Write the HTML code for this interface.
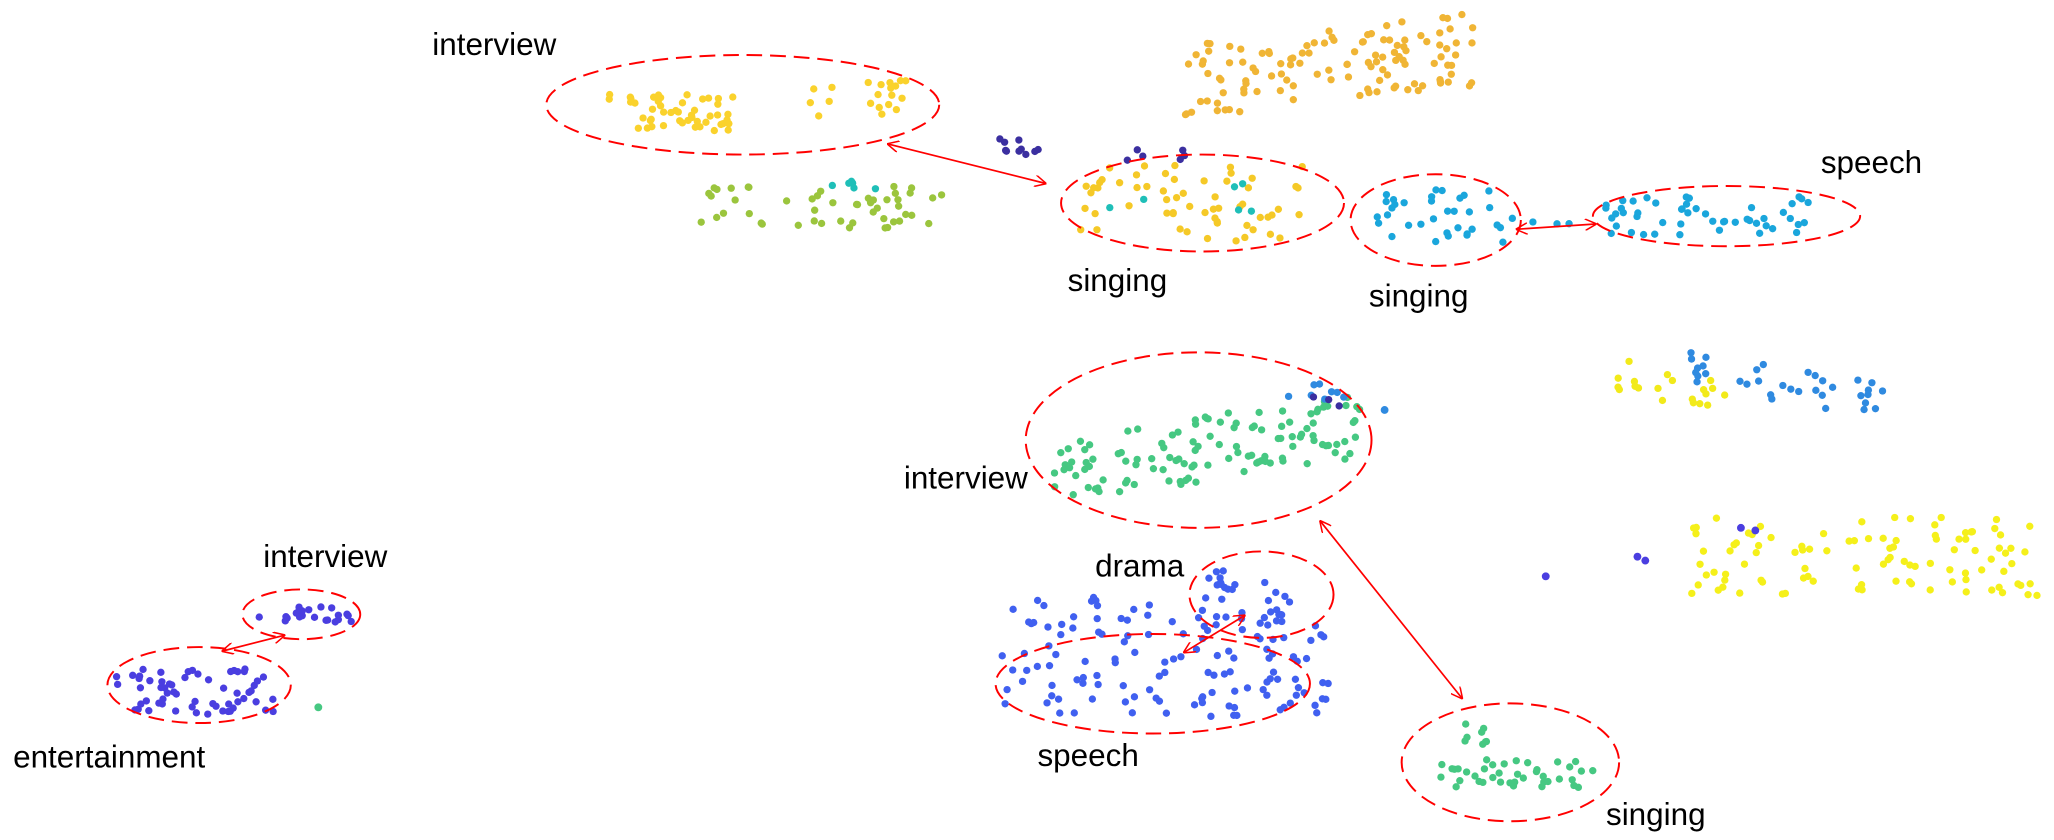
<!DOCTYPE html>
<html><head><meta charset="utf-8"><style>
html,body{margin:0;padding:0;background:#fff;width:2054px;height:840px;overflow:hidden}
svg{display:block}
text{font-family:"Liberation Sans",sans-serif;font-size:24px;fill:#000}
</style></head><body>
<svg id="s" width="2054" height="840" viewBox="0 0 1568 641.3" preserveAspectRatio="none" xmlns="http://www.w3.org/2000/svg">
<defs>
<marker id="a" viewBox="0 0 10 10" refX="9" refY="5" markerWidth="9" markerHeight="9" orient="auto-start-reverse" markerUnits="userSpaceOnUse">
<path d="M0,0 L10,5 L0,10" fill="none" stroke="#f00" stroke-width="1.3"/></marker>
</defs>
<g id="dots"></g>
<g fill="none" stroke="#f00" stroke-width="1.5" stroke-dasharray="12,6">
<ellipse cx="567" cy="80" rx="150" ry="38"/>
<ellipse cx="918" cy="155" rx="108" ry="37"/>
<ellipse cx="1096" cy="168" rx="65" ry="35"/>
<ellipse cx="1318" cy="165" rx="102" ry="23"/>
<ellipse cx="915" cy="336" rx="132" ry="67"/>
<ellipse cx="963" cy="454" rx="55" ry="33"/>
<ellipse cx="880" cy="522" rx="120" ry="38"/>
<ellipse cx="1153" cy="582" rx="83" ry="45"/>
<ellipse cx="230" cy="469" rx="45" ry="19"/>
<ellipse cx="152" cy="523" rx="70" ry="29"/>
</g>
<g stroke="#f00" stroke-width="1.3" fill="none" marker-start="url(#a)" marker-end="url(#a)">
<line x1="678" y1="110" x2="798" y2="140"/>
<line x1="1158" y1="175" x2="1218" y2="171"/>
<line x1="1008" y1="398" x2="1116" y2="533"/>
<line x1="904" y1="498" x2="950" y2="470"/>
<line x1="170" y1="497" x2="217" y2="485"/>
</g>
<text x="330" y="42">interview</text>
<text x="815" y="222">singing</text>
<text x="1045" y="234">singing</text>
<text x="1390" y="132">speech</text>
<text x="690" y="373">interview</text>
<text x="836" y="440">drama</text>
<text x="792" y="585">speech</text>
<text x="1226" y="630">singing</text>
<text x="201" y="433">interview</text>
<text x="10" y="586">entertainment</text>
</svg>
<script>
var seed=7;function r(){seed=(seed*16807)%2147483647;return (seed-1)/2147483646;}
var g=document.getElementById('dots'),out='';
function cl(x1,x2,y1,y2,n,c,slope){slope=slope||0;for(var i=0;i<n;i++){var x=x1+r()*(x2-x1);var y=y1+r()*(y2-y1)+slope*(x-x1);out+='<circle cx="'+x.toFixed(1)+'" cy="'+y.toFixed(1)+'" r="2.8" fill="'+c+'"/>';}}
cl(905,1125,35,92,120,'#f0b535',-0.12);
cl(465,560,72,100,50,'#fad22c');cl(615,695,60,90,20,'#fad22c');
cl(535,720,142,175,50,'#9bc53d');cl(625,675,136,146,6,'#1fbfb8');
cl(755,795,104,122,10,'#3b2fa0');
cl(820,995,125,185,60,'#f5c927');cl(860,905,114,124,6,'#3b2fa0');cl(830,980,140,170,6,'#1fbfb8');
cl(1045,1155,145,185,35,'#1aa6dc');
cl(1225,1385,150,180,50,'#1aa6dc');cl(1165,1200,168,172,3,'#1aa6dc');
cl(1235,1320,275,315,20,'#f2ea1a');cl(1290,1440,268,295,35,'#2f8ae0',0.17);
cl(805,1040,335,385,120,'#46c882',-0.15);cl(980,1035,290,305,8,'#2f8ae0');cl(990,1030,298,310,3,'#3b2fa0');
cl(1290,1555,395,455,100,'#f5f01a');
out+='<circle cx="1180" cy="440" r="3" fill="#4a3ee0"/><circle cx="1250" cy="425" r="3" fill="#4a3ee0"/><circle cx="1256" cy="428" r="3" fill="#4a3ee0"/><circle cx="1329" cy="403" r="3" fill="#4a3ee0"/><circle cx="1340" cy="405" r="3" fill="#4a3ee0"/><circle cx="243" cy="540" r="3" fill="#46c882"/><circle cx="1057" cy="313" r="3" fill="#2f8ae0"/>';
cl(915,1000,435,490,30,'#4060f0');
cl(765,1015,455,548,130,'#4060f0');
cl(1118,1135,550,570,8,'#46c882');cl(1100,1220,580,602,40,'#46c882');
cl(197,270,463,476,22,'#4a3ee0');
cl(88,210,510,546,60,'#4a3ee0');
g.innerHTML=out;
</script>
</body></html>
